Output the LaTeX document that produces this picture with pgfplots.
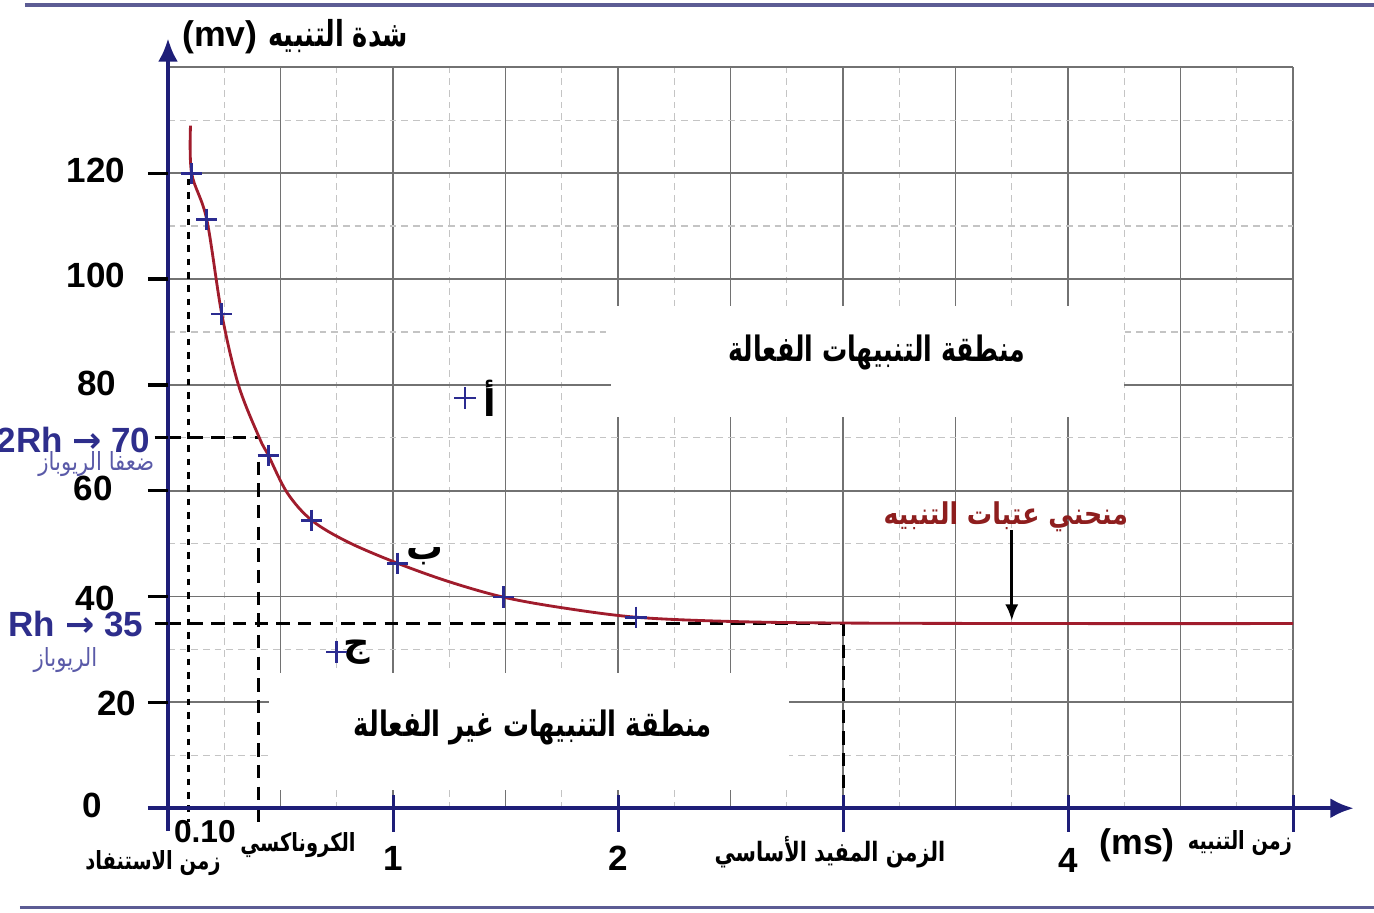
\documentclass[border=0pt]{standalone}
\usepackage{graphicx}
\usepackage{pgfplots}
\usepackage{pgfplotstable}
\pgfplotsset{compat=1.18}
\usepackage{fontspec}
\usetikzlibrary{arrows.meta}
\setmainfont{Liberation Sans}
\newfontfamily\arabicfont[Script=Arabic]{DejaVu Sans}
\newfontfamily\symfont{DejaVu Sans}
\TeXXeTstate=1

\definecolor{axisnavy}{HTML}{1E1E78}
\definecolor{curvered}{HTML}{A01C2C}
\definecolor{marknavy}{HTML}{2B2B90}
\definecolor{gridmaj}{HTML}{727272}
\definecolor{gridmin}{HTML}{C4C4C4}
\definecolor{rhblue}{HTML}{2E2E8C}
\definecolor{rhlight}{HTML}{5A5AA8}
\definecolor{framecol}{HTML}{5C5C94}
\definecolor{labelred}{HTML}{8E1E1E}

% Arabic text, squeezed a little to the width of the original face
\newcommand{\ar}[2][0.77]{\scalebox{#1}[1]{\arabicfont\beginR #2\endR}}

% strength-duration curve
\pgfplotstableread{
t    v
0.100 129
0.105 120
0.172 111.3
0.239 93.4
0.313 80
0.406 70
0.446 66.7
0.530 59.6
0.639 54.4
0.800 50.3
1.020 46.3
1.250 42.8
1.490 39.9
1.750 37.9
2.080 36.1
2.500 35.3
3.000 35.0
4.000 34.9
5.000 34.9
}\curve

\begin{document}
\begin{tikzpicture}[
  num/.style={font=\fontsize{10.5}{12}\selectfont\bfseries, inner sep=0pt},
  arb/.style={font=\bfseries\fontsize{10}{12}\selectfont, inner sep=0pt},
  dsh/.style={black, line width=0.9pt, dash pattern=on 4pt off 2.5pt},
]
\begin{axis}[
  x=67.5pt, y=1.5875pt,
  xmin=0, xmax=5, ymin=0, ymax=140,
  clip=false,
  axis line style={draw=none},
  xtick={0,0.5,...,5}, ytick={0,20,...,140},
  minor x tick num=1, minor y tick num=1,
  xticklabels={}, yticklabels={},
  major tick length=0pt, minor tick length=0pt,
  grid=both,
  major grid style={draw=gridmaj, line width=0.55pt},
  minor grid style={draw=gridmin, dash pattern=on 2pt off 1.5pt, line width=0.4pt},
]
% white boxes behind the two region labels
\fill[white] (axis cs:1.97,73.9) rectangle (axis cs:4.25,95);
\fill[white] (axis cs:0.45,3.4) rectangle (axis cs:2.76,25.5);

% frame lines
\draw[framecol, line width=1pt] (axis cs:-0.636,151.8) -- (axis cs:5.36,151.8);
\draw[framecol, line width=1pt] (axis cs:-0.658,-18.7) -- (axis cs:5.36,-18.7);

% reference dashed lines
\draw[dsh] (axis cs:0,70) -- (axis cs:0.40,70);
\draw[dsh] (axis cs:0.40,65.5) -- (axis cs:0.40,-2.6);
\draw[black, line width=1pt, dash pattern=on 2pt off 2pt] (axis cs:0.092,119) -- (axis cs:0.092,-2.6);
\draw[dsh] (axis cs:0,35) -- (axis cs:3.0,35);
\draw[dsh] (axis cs:3.0,35) -- (axis cs:3.0,-4);

% curve and measured points
\addplot[curvered, line width=0.85pt, smooth, tension=0.55] table[x=t, y=v] {\curve};
\addplot[only marks, mark=+, mark size=3.2pt, marknavy, mark options={line width=0.8pt}] coordinates {
  (0.105,120) (0.172,111.3) (0.239,93.4) (0.446,66.7) (0.639,54.4) (1.02,46.3) (1.49,39.9) (2.08,36.1)
};
\addplot[only marks, mark=+, mark size=3.2pt, marknavy, mark options={line width=0.8pt}] coordinates {
  (1.32,77.5) (0.75,29.5)
};

% axes
\draw[axisnavy, line width=1.2pt, -{Latex[length=7pt,width=6pt]}] (axis cs:-0.089,0) -- (axis cs:5.27,0);
\draw[axisnavy, line width=1.2pt, -{Latex[length=7pt,width=6pt]}] (axis cs:0,-4.3) -- (axis cs:0,145.5);
\draw[black, line width=1pt] (axis cs:-0.089,20) -- (axis cs:0,20);
\draw[black, line width=1pt] (axis cs:-0.089,40) -- (axis cs:0,40);
\draw[black, line width=1pt] (axis cs:-0.089,60) -- (axis cs:0,60);
\draw[black, line width=1pt] (axis cs:-0.089,80) -- (axis cs:0,80);
\draw[black, line width=1pt] (axis cs:-0.089,100) -- (axis cs:0,100);
\draw[black, line width=1pt] (axis cs:-0.089,120) -- (axis cs:0,120);
\draw[black, line width=0.9pt] (axis cs:-0.06,35) -- (axis cs:0,35);
\draw[black, line width=0.9pt] (axis cs:-0.06,70) -- (axis cs:0,70);
\draw[axisnavy, line width=0.9pt] (axis cs:1,2.5) -- (axis cs:1,-4.5);
\draw[axisnavy, line width=0.9pt] (axis cs:2,2.5) -- (axis cs:2,-4.5);
\draw[axisnavy, line width=0.9pt] (axis cs:3,2.5) -- (axis cs:3,-4.5);
\draw[axisnavy, line width=0.9pt] (axis cs:4,2.5) -- (axis cs:4,-4.5);
\draw[axisnavy, line width=0.9pt] (axis cs:5,2.5) -- (axis cs:5,-4.5);

% y tick numbers
\node[num] at (axis cs:-0.338,0.5) {0};
\node[num] at (axis cs:-0.227,19.8) {20};
\node[num] at (axis cs:-0.324,39.7) {40};
\node[num] at (axis cs:-0.333,60.5) {60};
\node[num] at (axis cs:-0.316,80.3) {80};
\node[num] at (axis cs:-0.32,100.6) {100};
\node[num] at (axis cs:-0.32,120.6) {120};

% rheobase labels
\node[num, anchor=east, rhblue] at (axis cs:-0.075,69.6) {2Rh {\symfont\bfseries →} 70};
\node[anchor=east, inner sep=0pt, rhlight, font=\fontsize{7.5}{9}\selectfont] at (axis cs:-0.058,65.0) {\ar[0.85]{ضعفا الريوباز}};
\node[num, anchor=east, rhblue] at (axis cs:-0.108,34.8) {Rh {\symfont\bfseries →} 35};
\node[anchor=east, inner sep=0pt, rhlight, font=\fontsize{7.5}{9}\selectfont] at (axis cs:-0.311,28.0) {\ar[0.85]{الريوباز}};

% x labels
\node[num, font=\fontsize{9.5}{11}\selectfont\bfseries] at (axis cs:0.164,-4.4) {0.10};
\node[arb, font=\bfseries\fontsize{7.5}{9}\selectfont] at (axis cs:-0.067,-10.3) {\ar[0.78]{زمن الاستنفاد}};
\node[arb, font=\bfseries\fontsize{7.5}{9}\selectfont] at (axis cs:0.578,-7.0) {\ar[0.78]{الكروناكسي}};
\node[num] at (axis cs:1,-9.5) {1};
\node[num] at (axis cs:2,-9.5) {2};
\node[num] at (axis cs:4,-9.8) {4};
\node[arb, font=\bfseries\fontsize{8}{10}\selectfont] at (axis cs:2.942,-8.3) {\ar[0.78]{الزمن المفيد الأساسي}};
\node[num, font=\fontsize{10.7}{12}\selectfont\bfseries] at (axis cs:4.307,-7.0) {(ms)};
\node[arb, font=\bfseries\fontsize{7.5}{9}\selectfont] at (axis cs:4.764,-6.6) {\ar[0.77]{زمن التنبيه}};

% y title
\node[num, font=\fontsize{10.7}{12}\selectfont\bfseries] at (axis cs:0.231,145.6) {(mv)};
\node[arb, font=\bfseries\fontsize{10.7}{12}\selectfont] at (axis cs:0.756,145.9) {\ar[0.72]{شدة التنبيه}};

% region labels
\node[arb, font=\bfseries\fontsize{10.5}{12}\selectfont] at (axis cs:3.151,86.2) {\ar[0.72]{منطقة التنبيهات الفعالة}};
\node[arb, font=\bfseries\fontsize{10.5}{12}\selectfont] at (axis cs:1.622,15.3) {\ar[0.74]{منطقة التنبيهات غير الفعالة}};
\node[arb, labelred, font=\bfseries\fontsize{9}{11}\selectfont] at (axis cs:3.724,55.0) {\ar[0.84]{منحني  عتبات التنبيه}};
\draw[black, line width=1pt, -{Latex[length=5pt,width=4pt]}] (axis cs:3.75,52.5) -- (axis cs:3.75,35.4);

% point letters
\node[arb, font=\bfseries\fontsize{11}{13}\selectfont] at (axis cs:1.431,77.5) {\ar[1]{أ}};
\node[arb, font=\bfseries\fontsize{11}{13}\selectfont] at (axis cs:1.142,47.6) {\ar[1]{ب}};
\node[arb, font=\bfseries\fontsize{11}{13}\selectfont] at (axis cs:0.84,29.5) {\ar[1]{ج}};

\coordinate (bl) at (axis cs:-0.7467,-19.66);
\coordinate (tr) at (axis cs:5.36,152.74);
\end{axis}
\pgfresetboundingbox
\path[use as bounding box] (bl) rectangle (tr);
\end{tikzpicture}
\end{document}
